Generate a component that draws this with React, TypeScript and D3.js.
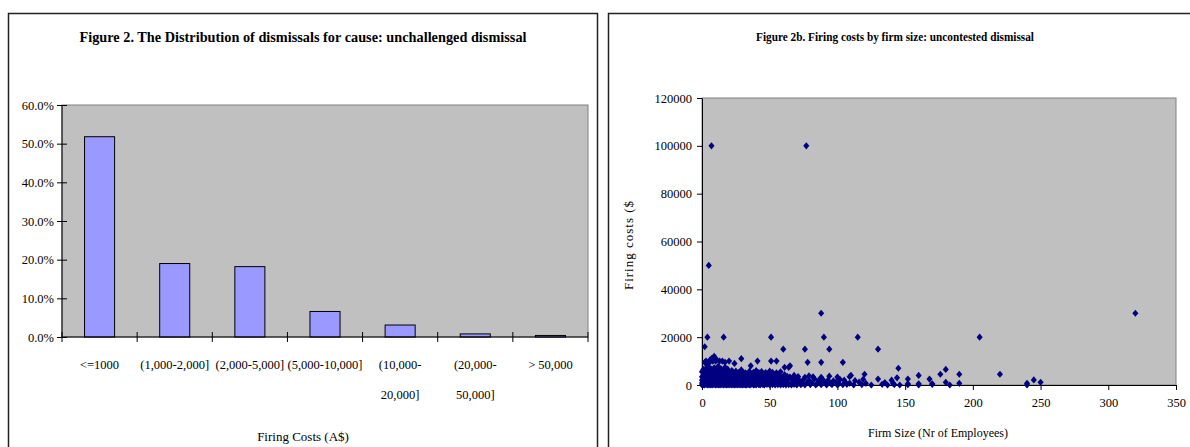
import { useEffect, useRef } from 'react'
import * as d3 from 'd3'

// Figure 2: share of dismissals by firing cost band
const costBands = [
  '<=1000',
  '(1,000-2,000]',
  '(2,000-5,000]',
  '(5,000-10,000]',
  '(10,000-\n20,000]',
  '(20,000-\n50,000]',
  '> 50,000'
]
const dismissalShares = [0.518, 0.19, 0.182, 0.066, 0.031, 0.008, 0.004]
const shareTicks = [0, 0.1, 0.2, 0.3, 0.4, 0.5, 0.6]

// Figure 2b: [firm size, firing cost] pairs
const firmSizeTicks = [0, 50, 100, 150, 200, 250, 300, 350]
const costTicks = [0, 20000, 40000, 60000, 80000, 100000, 120000]

const outlierPoints: [number, number][] = [
  [7, 100000], [77, 100000], [5, 50000], [88, 30000], [320, 30000],
  [4, 20000], [16, 20000], [51, 20000], [90, 20000], [115, 20000], [205, 20000],
  [2, 16000], [60, 15000], [76, 15000], [94, 15000], [130, 15000]
]

const midPoints: [number, number][] = [
  [2, 9500], [3, 10000], [4, 8500], [5, 9000], [6, 10500], [7, 11000], [8, 10000],
  [9, 12000], [10, 10000], [11, 10500], [13, 10000], [15, 10000], [17, 9500],
  [20, 10000], [24, 9000], [29, 11000], [41, 10000], [51, 10000], [55, 10000],
  [78, 9500], [88, 9500], [104, 9500],
  [0, 5500], [1, 6500], [2, 5200], [3, 7000], [4, 6000], [5, 7500], [6, 5400],
  [7, 6600], [8, 5800], [9, 7200], [10, 5300], [11, 6400], [12, 7800], [13, 5600],
  [14, 6800], [15, 5200], [16, 6200], [17, 7400], [18, 5500], [19, 6600], [20, 5100],
  [22, 6000], [23, 5400], [25, 5800], [27, 5200], [29, 6300], [30, 5500], [32, 5100],
  [35, 5700], [36, 8000], [38, 5300], [40, 6000], [42, 5200], [44, 5600], [47, 5200],
  [50, 5800], [52, 5300], [55, 5100], [58, 5500], [61, 7400], [64, 7400], [65, 8000],
  [145, 7000], [180, 6500]
]

const lowPoints: [number, number][] = [
  [0, 3500], [1, 4200], [2, 3200], [3, 4800], [4, 3800], [5, 4400], [6, 3300], [7, 5000],
  [8, 3700], [9, 4300], [10, 3400], [11, 4700], [12, 3900], [13, 3200], [14, 4500],
  [15, 3600], [16, 4100], [17, 3300], [18, 4800], [19, 3800], [20, 4300], [21, 3500],
  [22, 4900], [23, 3900], [24, 3200], [25, 4400], [27, 3600], [28, 4900], [30, 4000],
  [31, 3400], [33, 4600], [34, 3800], [36, 3300], [37, 4400], [39, 3900], [41, 4800],
  [42, 3500], [44, 4200], [46, 3600], [48, 4700], [49, 3300], [51, 4000], [53, 3500],
  [54, 4500], [57, 3800], [59, 3200], [61, 4300], [63, 3600], [65, 3300], [68, 4000],
  [71, 3500], [76, 3200], [79, 3800], [82, 3400], [88, 3200], [94, 3700], [100, 3300],
  [109, 3500], [110, 4000], [120, 4500], [160, 4000], [176, 4500], [190, 4500], [220, 4500],
  [0, 2000], [1, 2600], [2, 1800], [3, 2400], [4, 3000], [5, 2000], [6, 2700], [7, 1700],
  [8, 2300], [9, 2900], [10, 2000], [11, 2500], [12, 1800], [13, 2800], [14, 2200],
  [15, 1600], [16, 2600], [17, 2100], [18, 3000], [19, 1800], [20, 2400], [21, 2000],
  [22, 2800], [23, 1700], [24, 2300], [25, 2700], [26, 2000], [28, 2500], [29, 1800],
  [30, 2900], [32, 2200], [33, 1600], [34, 2600], [36, 2000], [38, 2800], [40, 2300],
  [41, 1700], [43, 2600], [45, 2000], [47, 2900], [48, 2200], [50, 1700], [51, 2500],
  [53, 2000], [56, 2700], [58, 1900], [60, 2400], [62, 1700], [64, 2800], [67, 2100],
  [70, 2500], [72, 1800], [75, 2300], [79, 2000], [83, 2600], [86, 1800], [89, 2400],
  [93, 2000], [97, 1700], [102, 2300], [105, 2000], [113, 1800], [119, 2400], [130, 2500],
  [140, 2000], [144, 3000], [152, 2500], [168, 2500], [245, 2100]
]

const floorPoints: [number, number][] = [
  [0, 800], [1, 1200], [2, 600], [3, 1000], [4, 1400], [5, 700], [6, 1100], [7, 500],
  [8, 1300], [9, 900], [10, 600], [11, 1200], [12, 1000], [13, 800], [14, 1400], [15, 600],
  [16, 1100], [17, 900], [18, 1300], [19, 700], [20, 1000], [21, 1500], [22, 800],
  [23, 1200], [24, 600], [25, 1000], [26, 1400], [27, 700], [28, 1100], [30, 900],
  [31, 1300], [32, 600], [33, 1000], [35, 1200], [36, 800], [37, 1500], [39, 1000],
  [41, 700], [42, 1300], [44, 900], [46, 1100], [47, 600], [49, 1400], [50, 1000],
  [52, 800], [53, 1200], [55, 600], [57, 1000], [59, 1400], [61, 800], [63, 1100],
  [66, 600], [69, 1000], [71, 1400], [74, 700], [78, 1200], [81, 900], [85, 600],
  [87, 1300], [91, 1000], [95, 700], [99, 1200], [101, 600], [106, 1000], [109, 800],
  [116, 1200], [121, 700], [135, 1000], [141, 800], [152, 500], [160, 500], [170, 500],
  [180, 1100], [190, 700], [240, 700], [250, 1100],
  [0, 0], [1, 200], [2, 0], [3, 300], [4, 0], [5, 100], [6, 0], [7, 200], [8, 0], [9, 300],
  [10, 0], [11, 100], [12, 0], [13, 200], [14, 0], [15, 300], [16, 0], [17, 100], [18, 0],
  [19, 200], [20, 0], [21, 300], [22, 0], [23, 100], [24, 0], [25, 200], [26, 0], [27, 300],
  [28, 0], [29, 100], [30, 0], [31, 200], [32, 0], [33, 0], [34, 300], [35, 0], [36, 100],
  [38, 0], [39, 200], [40, 0], [42, 100], [43, 0], [45, 200], [46, 0], [48, 300], [50, 0],
  [52, 100], [54, 0], [56, 200], [58, 0], [60, 100], [62, 0], [64, 200], [66, 0], [68, 300],
  [70, 0], [73, 100], [76, 0], [80, 200], [84, 0], [88, 100], [92, 0], [96, 200], [100, 0],
  [104, 100], [107, 300], [112, 0], [118, 200], [125, 0], [133, 300], [137, 0], [142, 200],
  [146, 0], [152, 100], [160, 0], [170, 300], [183, 0], [240, 0]
]

const FONT = "'Liberation Serif', 'Times New Roman', serif"

// Excel-style square diamond marker
const diamondType = {
  draw(ctx: any, size: number) {
    const r = Math.sqrt(size / 2)
    ctx.moveTo(0, -r)
    ctx.lineTo(r * 0.85, 0)
    ctx.lineTo(0, r)
    ctx.lineTo(-r * 0.85, 0)
    ctx.closePath()
  }
}

export default function App() {
  const svgRef = useRef<SVGSVGElement>(null)

  useEffect(() => {
    if (!svgRef.current) return
    const svg = d3.select(svgRef.current)
    svg.selectAll('*').remove()

    // ---------- Left panel: bar chart ----------
    svg.append('rect')
      .attr('x', 8.5).attr('y', 13.5)
      .attr('width', 589).attr('height', 460)
      .attr('fill', '#fff').attr('stroke', '#222').attr('stroke-width', 1.5)

    svg.append('text')
      .attr('x', 303).attr('y', 42)
      .attr('text-anchor', 'middle')
      .attr('font-family', FONT).attr('font-size', 15).attr('font-weight', 'bold')
      .attr('textLength', 447).attr('lengthAdjust', 'spacingAndGlyphs')
      .text('Figure 2. The Distribution of dismissals for cause: unchallenged dismissal')

    const left = { x0: 62, x1: 588, y0: 337, y1: 105 }
    const x = d3.scaleBand<string>()
      .domain(costBands)
      .range([left.x0, left.x1])
      .paddingInner(0.6)
      .paddingOuter(0.3)
    const y = d3.scaleLinear().domain([0, 0.6]).range([left.y0, left.y1])

    svg.append('rect')
      .attr('x', left.x0).attr('y', left.y1)
      .attr('width', left.x1 - left.x0).attr('height', left.y0 - left.y1)
      .attr('fill', '#c0c0c0').attr('stroke', '#808080')

    svg.append('g')
      .selectAll('rect')
      .data(costBands)
      .enter()
      .append('rect')
      .attr('x', d => x(d)!)
      .attr('y', (d, i) => y(dismissalShares[i]))
      .attr('width', x.bandwidth())
      .attr('height', (d, i) => left.y0 - y(dismissalShares[i]))
      .attr('fill', '#9999ff')
      .attr('stroke', '#000')
      .attr('stroke-width', 1)

    // y axis with crossing ticks
    const yAxis = svg.append('g')
      .attr('transform', `translate(${left.x0 + 5},0)`)
      .call(d3.axisLeft(y).tickValues(shareTicks).tickSize(10).tickPadding(3).tickFormat(d3.format('.1%')))
    yAxis.select('.domain').remove()
    yAxis.selectAll('text').attr('font-family', FONT).attr('font-size', 12.5).attr('fill', '#000')
    svg.append('line')
      .attr('x1', left.x0).attr('x2', left.x0)
      .attr('y1', left.y1).attr('y2', left.y0)
      .attr('stroke', '#000')

    // x axis: crossing ticks at category boundaries
    svg.append('line')
      .attr('x1', left.x0).attr('x2', left.x1)
      .attr('y1', left.y0).attr('y2', left.y0)
      .attr('stroke', '#000')
    svg.append('g')
      .selectAll('line')
      .data(d3.range(costBands.length + 1))
      .enter()
      .append('line')
      .attr('x1', i => left.x0 + i * x.step())
      .attr('x2', i => left.x0 + i * x.step())
      .attr('y1', left.y0 - 5).attr('y2', left.y0 + 5)
      .attr('stroke', '#000')

    const bandLabels = svg.append('g')
      .selectAll('text')
      .data(costBands)
      .enter()
      .append('text')
      .attr('text-anchor', 'middle')
      .attr('font-family', FONT).attr('font-size', 12.5)
    bandLabels.each(function (d) {
      const cx = x(d)! + x.bandwidth() / 2
      d.split('\n').forEach((line, k) => {
        d3.select(this).append('tspan')
          .attr('x', cx).attr('y', 369 + k * 30)
          .text(line)
      })
    })

    svg.append('text')
      .attr('x', 303).attr('y', 441)
      .attr('text-anchor', 'middle')
      .attr('font-family', FONT).attr('font-size', 13)
      .text('Firing Costs (A$)')

    // ---------- Right panel: scatter ----------
    svg.append('rect')
      .attr('x', 608.5).attr('y', 13.5)
      .attr('width', 620).attr('height', 460)
      .attr('fill', '#fff').attr('stroke', '#222').attr('stroke-width', 1.5)

    svg.append('text')
      .attr('x', 895).attr('y', 41)
      .attr('text-anchor', 'middle')
      .attr('font-family', FONT).attr('font-size', 11.5).attr('font-weight', 'bold')
      .attr('textLength', 278).attr('lengthAdjust', 'spacingAndGlyphs')
      .text('Figure 2b. Firing costs by firm size: uncontested dismissal')

    const right = { x0: 702, x1: 1176, y0: 385, y1: 98 }
    const xs = d3.scaleLinear().domain([0, 350]).range([right.x0, right.x1])
    const ys = d3.scaleLinear().domain([0, 120000]).range([right.y0, right.y1])

    svg.append('rect')
      .attr('x', right.x0).attr('y', right.y1)
      .attr('width', right.x1 - right.x0).attr('height', right.y0 - right.y1)
      .attr('fill', '#c0c0c0').attr('stroke', '#808080')

    const xAxis = svg.append('g')
      .attr('transform', `translate(0,${right.y0})`)
      .call(d3.axisBottom(xs).tickValues(firmSizeTicks).tickSize(5).tickSizeOuter(0).tickPadding(8).tickFormat(d3.format('d')))
    const ysAxis = svg.append('g')
      .attr('transform', `translate(${right.x0},0)`)
      .call(d3.axisLeft(ys).tickValues(costTicks).tickSize(5).tickSizeOuter(0).tickPadding(5).tickFormat(d3.format('d')))
    for (const ax of [xAxis, ysAxis]) {
      ax.selectAll('text').attr('font-family', FONT).attr('font-size', 12.5).attr('fill', '#000')
      ax.selectAll('.tick line').attr('stroke', '#000')
      ax.select('.domain').attr('stroke', '#000')
    }

    const allPoints = [...floorPoints, ...lowPoints, ...midPoints, ...outlierPoints]
    const symbol = d3.symbol().type(diamondType as any).size(26)
    svg.append('g')
      .selectAll('path')
      .data(allPoints)
      .enter()
      .append('path')
      .attr('transform', d => `translate(${xs(d[0])},${ys(d[1])})`)
      .attr('d', symbol() as string)
      .attr('fill', '#000080')

    svg.append('text')
      .attr('transform', 'translate(633,245) rotate(-90)')
      .attr('text-anchor', 'middle')
      .attr('font-family', FONT).attr('font-size', 13)
      .attr('letter-spacing', 1)
      .text('Firing costs ($')

    svg.append('text')
      .attr('x', 938).attr('y', 437)
      .attr('text-anchor', 'middle')
      .attr('font-family', FONT).attr('font-size', 12.5)
      .attr('textLength', 140).attr('lengthAdjust', 'spacingAndGlyphs')
      .text('Firm Size (Nr of Employees)')
  }, [])

  return (
    <svg
      ref={svgRef}
      width={1190}
      height={447}
      style={{ position: 'absolute', left: 0, top: 0, display: 'block', background: '#fff' }}
    />
  )
}
